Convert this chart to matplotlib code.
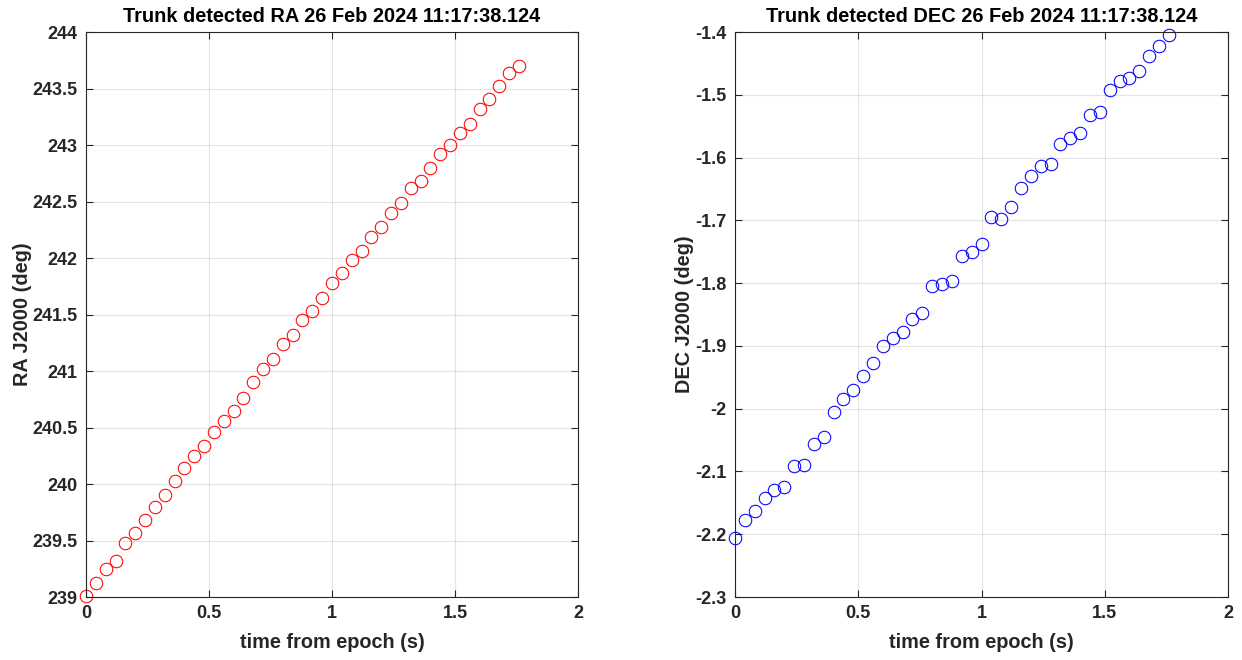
import numpy as np
import matplotlib
matplotlib.use("Agg")
import matplotlib.pyplot as plt
from matplotlib.ticker import FuncFormatter

# time samples (s), 0.04 s step
t = [i * 0.04 for i in range(45)]

ra = [239.01, 239.12, 239.25, 239.32, 239.48, 239.57, 239.68, 239.80, 239.90,
      240.03, 240.14, 240.25, 240.34, 240.46, 240.56, 240.65, 240.76, 240.90,
      241.02, 241.11, 241.24, 241.32, 241.45, 241.53, 241.65, 241.78, 241.87,
      241.98, 242.06, 242.19, 242.27, 242.40, 242.49, 242.62, 242.68, 242.80,
      242.92, 243.00, 243.11, 243.19, 243.32, 243.41, 243.52, 243.64, 243.70]

dec = [-2.206, -2.177, -2.163, -2.143, -2.130, -2.124, -2.092, -2.090, -2.056,
       -2.045, -2.005, -1.985, -1.971, -1.948, -1.928, -1.900, -1.888, -1.878,
       -1.857, -1.848, -1.805, -1.801, -1.797, -1.757, -1.750, -1.738, -1.695,
       -1.698, -1.679, -1.648, -1.630, -1.613, -1.610, -1.579, -1.569, -1.561,
       -1.533, -1.527, -1.492, -1.478, -1.473, -1.462, -1.438, -1.422, -1.404]

ra_ticks = [239, 239.5, 240, 240.5, 241, 241.5, 242, 242.5, 243, 243.5, 244]
dec_ticks = [-2.3, -2.2, -2.1, -2, -1.9, -1.8, -1.7, -1.6, -1.5, -1.4]
x_ticks = [0, 0.5, 1, 1.5, 2]

title_time = "26 Feb 2024 11:17:38.124"

plt.rcParams['font.family'] = ['Liberation Sans', 'DejaVu Sans']
plt.rcParams['font.weight'] = 'bold'

fig = plt.figure(figsize=(12.42, 6.6), dpi=100)
ax1 = fig.add_axes([86/1242, 1-597/660, 492/1242, 565/660])
ax2 = fig.add_axes([735/1242, 1-597/660, 493/1242, 565/660])

fmt = FuncFormatter(lambda v, p: f"{v:g}")
edge = (0.15, 0.15, 0.15)

def style(ax):
    ax.set_xlim(0, 2)
    ax.set_xticks(x_ticks)
    ax.xaxis.set_major_formatter(fmt)
    ax.yaxis.set_major_formatter(fmt)
    ax.grid(True, color=(0.15, 0.15, 0.15), alpha=0.12, linewidth=0.8)
    ax.set_axisbelow(True)
    ax.tick_params(direction='in', top=True, right=True, length=5,
                   width=0.8, colors=edge, labelsize=13, pad=6)
    for lab in ax.get_xticklabels() + ax.get_yticklabels():
        lab.set_fontweight('bold')
    for s in ax.spines.values():
        s.set_color(edge)
        s.set_linewidth(0.8)

ax1.plot(t, ra, 'o', markerfacecolor='none', markeredgecolor='red',
         markersize=9, markeredgewidth=0.75, clip_on=False)
ax1.set_ylim(239, 244)
ax1.set_yticks(ra_ticks)
style(ax1)
ax1.set_title("Trunk detected RA " + title_time, fontsize=14.4, fontweight='bold', pad=7)
ax1.set_xlabel("time from epoch (s)", fontsize=14.3, fontweight='bold', color=edge, labelpad=8)
ax1.set_ylabel("RA J2000 (deg)", fontsize=14.3, fontweight='bold', color=edge, labelpad=0)

ax2.plot(t, dec, 'o', markerfacecolor='none', markeredgecolor='blue',
         markersize=9, markeredgewidth=0.75, clip_on=False)
ax2.set_ylim(-2.3, -1.4)
ax2.set_yticks(dec_ticks)
style(ax2)
ax2.set_title("Trunk detected DEC " + title_time, fontsize=14.4, fontweight='bold', pad=7)
ax2.set_xlabel("time from epoch (s)", fontsize=14.3, fontweight='bold', color=edge, labelpad=8)
ax2.set_ylabel("DEC J2000 (deg)", fontsize=14.3, fontweight='bold', color=edge, labelpad=1)

fig.savefig("out.png", dpi=100)
